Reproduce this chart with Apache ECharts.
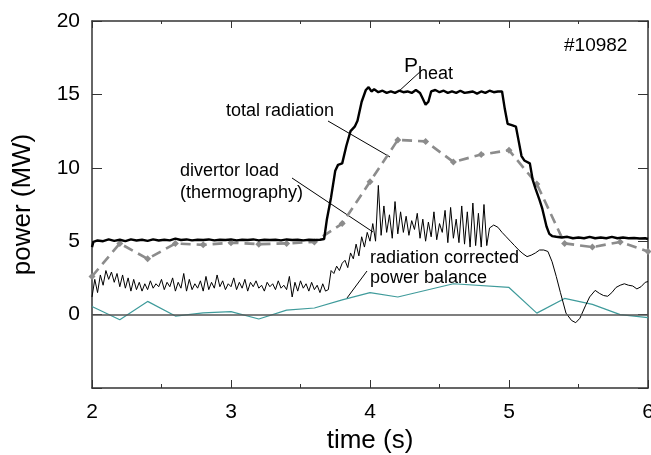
<!DOCTYPE html>
<html>
<head>
<meta charset="utf-8">
<script src="https://cdn.jsdelivr.net/npm/echarts@6/dist/echarts.min.js"></script>
<style>
  html, body { margin: 0; padding: 0; background: #fff; }
  #chart { width: 651px; height: 455px; }
</style>
</head>
<body>
<div id="chart"></div>
<script>
// heating power P_heat (MW) against time (s)
const pheatTime = [2.00, 2.01, 2.04, 2.08, 2.12, 2.16, 2.20, 2.24, 2.28, 2.32, 2.36, 2.40, 2.44, 2.48, 2.52, 2.56,
  2.60, 2.64, 2.68, 2.72, 2.76, 2.80, 2.84, 2.88, 2.92, 2.96, 3.00, 3.04, 3.08, 3.12, 3.16, 3.20, 3.24, 3.28,
  3.32, 3.36, 3.40, 3.44, 3.48, 3.52, 3.56, 3.60, 3.64, 3.67, 3.69, 3.72, 3.75, 3.77, 3.80, 3.83, 3.86, 3.89,
  3.91, 3.94, 3.97, 3.99, 4.01, 4.03, 4.06, 4.09, 4.12, 4.15, 4.18, 4.21, 4.24, 4.27, 4.30, 4.33, 4.36, 4.38,
  4.40, 4.42, 4.44, 4.47, 4.50, 4.53, 4.56, 4.59, 4.62, 4.65, 4.68, 4.71, 4.74, 4.77, 4.80, 4.83, 4.86, 4.89,
  4.92, 4.95, 4.97, 4.99, 5.02, 5.05, 5.07, 5.09, 5.11, 5.15, 5.17, 5.19, 5.22, 5.24, 5.27, 5.29, 5.31, 5.34,
  5.38, 5.42, 5.46, 5.50, 5.54, 5.58, 5.62, 5.66, 5.70, 5.74, 5.78, 5.82, 5.86, 5.90, 5.94, 5.98, 6.00];
const pheatValue = [4.6, 4.95, 5.05, 5.0, 5.12, 5.02, 5.1, 5.0, 5.12, 5.05, 5.1, 5.02, 5.12, 5.05, 5.1, 5.06,
  5.18, 5.08, 5.12, 5.06, 5.1, 5.08, 5.12, 5.06, 5.1, 5.08, 5.12, 5.06, 5.1, 5.08, 5.12, 5.06, 5.1, 5.08,
  5.1, 5.06, 5.12, 5.08, 5.1, 5.06, 5.1, 5.08, 5.1, 5.15, 6.5, 8.0, 9.8, 10.2, 10.3, 11.5, 12.5, 12.8,
  13.2, 14.5, 15.3, 15.5, 15.2, 15.35, 15.15, 15.25, 15.1, 15.2, 15.1, 15.25, 15.15, 15.2, 15.1, 15.3, 15.1, 14.7,
  14.3, 14.5, 15.2, 15.3, 15.15, 15.25, 15.1, 15.2, 15.1, 15.25, 15.1, 15.15, 15.2, 15.05, 15.2, 15.1, 15.25, 15.15,
  15.2, 15.2, 14.0, 13.0, 12.9, 12.8, 11.8, 10.8, 10.5, 10.3, 9.2, 8.6, 7.8, 7.2, 6.0, 5.5, 5.35, 5.3,
  5.25, 5.3, 5.2, 5.25, 5.2, 5.3, 5.2, 5.25, 5.2, 5.3, 5.2, 5.25, 5.2, 5.22, 5.18, 5.2, 5.15];

// total radiation, bolometer samples every 0.2 s
const radTime = [2.0, 2.2, 2.4, 2.6, 2.8, 3.0, 3.2, 3.4, 3.6, 3.8, 4.0, 4.2, 4.4, 4.6, 4.8, 5.0, 5.2, 5.4, 5.6, 5.8, 6.0];
const radValue = [2.6, 4.85, 3.8, 4.85, 4.75, 4.9, 4.8, 4.85, 4.95, 6.2, 9.05, 11.9, 11.8, 10.4, 10.9, 11.2, 8.9, 4.85, 4.6, 4.95, 4.3];

// divertor load (thermography)
const divTime = [2.00, 2.02, 2.04, 2.06, 2.08, 2.10, 2.12, 2.14, 2.16, 2.18, 2.20, 2.22, 2.24, 2.26, 2.28, 2.30,
  2.32, 2.34, 2.36, 2.38, 2.40, 2.42, 2.44, 2.46, 2.48, 2.50, 2.52, 2.54, 2.56, 2.58, 2.60, 2.62, 2.64, 2.66,
  2.68, 2.70, 2.72, 2.74, 2.76, 2.78, 2.80, 2.82, 2.84, 2.86, 2.88, 2.90, 2.92, 2.94, 2.96, 2.98, 3.00, 3.02,
  3.04, 3.06, 3.08, 3.10, 3.12, 3.14, 3.16, 3.18, 3.20, 3.22, 3.24, 3.26, 3.28, 3.30, 3.32, 3.34, 3.36, 3.38,
  3.40, 3.42, 3.44, 3.46, 3.48, 3.50, 3.52, 3.54, 3.56, 3.58, 3.60, 3.62, 3.64, 3.66, 3.68, 3.70, 3.72, 3.74,
  3.76, 3.78, 3.80, 3.82, 3.84, 3.86, 3.88, 3.90, 3.92, 3.94, 3.96, 3.98, 4.00, 4.02, 4.04, 4.06, 4.08, 4.10,
  4.12, 4.14, 4.16, 4.18, 4.20, 4.22, 4.24, 4.26, 4.28, 4.30, 4.32, 4.34, 4.36, 4.38, 4.40, 4.42, 4.44, 4.46,
  4.48, 4.50, 4.52, 4.54, 4.56, 4.58, 4.60, 4.62, 4.64, 4.66, 4.68, 4.70, 4.72, 4.74, 4.76, 4.78, 4.80, 4.82,
  4.84, 4.86, 4.89, 4.92, 4.95, 4.98, 5.01, 5.04, 5.07, 5.10, 5.13, 5.16, 5.19, 5.22, 5.25, 5.28, 5.31, 5.34,
  5.37, 5.41, 5.45, 5.48, 5.51, 5.55, 5.58, 5.62, 5.65, 5.68, 5.71, 5.74, 5.77, 5.80, 5.83, 5.86, 5.89, 5.92,
  5.95, 5.98, 6.00];
const divValue = [1.2, 2.4, 1.5, 2.7, 2.0, 3.0, 2.4, 2.9, 2.2, 2.8, 1.9, 2.7, 1.8, 2.5, 1.6, 2.4,
  1.7, 2.2, 1.6, 2.1, 1.7, 2.3, 1.8, 2.1, 1.9, 2.4, 1.7, 2.2, 1.9, 2.5, 1.6, 2.2, 1.8, 2.8,
  1.6, 2.4, 1.7, 2.1, 1.8, 2.3, 1.6, 2.6, 1.7, 2.2, 1.8, 2.7, 1.9, 2.3, 1.7, 2.1, 1.9, 2.5,
  1.7, 2.2, 1.8, 2.4, 1.6, 2.2, 1.9, 2.3, 1.8, 2.0, 1.6, 2.2, 1.9, 2.1, 1.7, 2.3, 1.8, 2.0,
  1.7, 2.6, 1.2, 2.2, 1.6, 2.3, 1.8, 2.1, 1.6, 2.2, 1.7, 2.0, 1.5, 2.1, 1.6, 1.7, 3.0, 2.8,
  3.3, 3.0, 3.5, 3.7, 3.2, 4.2, 3.8, 4.8, 4.0, 5.3, 4.6, 5.6, 5.0, 6.2, 5.0, 8.8, 5.4, 7.4,
  5.6, 6.8, 5.2, 7.7, 5.5, 7.0, 5.6, 6.7, 5.4, 6.4, 5.8, 6.9, 5.2, 6.5, 5.0, 6.3, 5.3, 7.0,
  5.1, 6.2, 5.6, 7.1, 4.9, 7.3, 5.2, 6.5, 4.9, 7.4, 4.8, 7.0, 4.6, 7.6, 4.7, 6.9, 4.6, 7.5,
  4.7, 5.9, 6.1, 5.95, 5.6, 5.3, 5.0, 4.7, 4.4, 4.15, 3.95, 4.05, 4.2, 4.4, 4.4, 4.3, 3.6, 2.6,
  1.5, 0.1, -0.4, -0.55, -0.25, 0.6, 1.2, 1.65, 1.45, 1.3, 1.25, 1.5, 1.85, 2.0, 2.1, 2.0, 1.95, 1.75,
  1.9, 2.2, 2.25];

// radiation corrected power balance
const balTime = [2.0, 2.2, 2.4, 2.6, 2.8, 3.0, 3.2, 3.4, 3.6, 3.8, 4.0, 4.2, 4.6, 5.0, 5.2, 5.4, 5.6, 5.8, 6.0];
const balValue = [0.55, -0.35, 0.9, -0.1, 0.12, 0.2, -0.3, 0.3, 0.45, 1.0, 1.5, 1.2, 2.1, 1.85, 0.1, 1.1, 0.7, 0.0, -0.2];

const xTicks = [2, 3, 4, 5, 6];
const yTicks = [0, 5, 10, 15, 20];

const font = "'Liberation Sans', Arial, sans-serif";
const pair = (ts, vs) => ts.map((t, i) => [t, vs[i]]);

let chart = echarts.init(document.getElementById("chart"));

const axisLineStyle = { color: "#333", width: 1.5 };

chart.setOption({
  animation: false,
  backgroundColor: "#fff",
  textStyle: { fontFamily: font },
  grid: { left: 92, right: 3, top: 21, bottom: 67, containLabel: false, outerBoundsMode: "none" },
  xAxis: [
    {
      type: "value",
      min: xTicks[0],
      max: xTicks[xTicks.length - 1],
      interval: 1,
      name: "time (s)",
      nameLocation: "middle",
      nameGap: 38,
      nameTextStyle: { fontSize: 26, color: "#000", fontFamily: font },
      axisLine: { show: true, onZero: false, lineStyle: axisLineStyle },
      axisTick: { show: true, inside: true, length: 8, lineStyle: { color: "#333" } },
      minorTick: { show: true, splitNumber: 2, length: 4, lineStyle: { color: "#333" } },
      axisLabel: { fontSize: 21, color: "#000", margin: 14, fontFamily: font },
      splitLine: { show: false },
    },
    {
      type: "value",
      position: "top",
      min: xTicks[0],
      max: xTicks[xTicks.length - 1],
      interval: 1,
      axisLine: { show: true, onZero: false, lineStyle: axisLineStyle },
      axisTick: { show: true, inside: true, length: 7, lineStyle: { color: "#333" } },
      minorTick: { show: true, splitNumber: 2, length: 3, lineStyle: { color: "#333" } },
      axisLabel: { show: false },
      splitLine: { show: false },
    },
  ],
  yAxis: [
    {
      type: "value",
      min: -5,
      max: 20,
      interval: 5,
      name: "power (MW)",
      nameLocation: "middle",
      nameGap: 56,
      nameTextStyle: { fontSize: 26, color: "#000", fontFamily: font },
      axisLine: { show: true, onZero: false, lineStyle: axisLineStyle },
      axisTick: { show: true, inside: true, length: 10, lineStyle: { color: "#333" } },
      axisLabel: {
        fontSize: 21,
        color: "#000",
        margin: 12,
        fontFamily: font,
        formatter: (v) => (yTicks.indexOf(v) >= 0 ? String(v) : ""),
      },
      splitLine: { show: false },
    },
    {
      type: "value",
      position: "right",
      min: -5,
      max: 20,
      interval: 5,
      axisLine: { show: true, onZero: false, lineStyle: axisLineStyle },
      axisTick: { show: true, inside: true, length: 10, lineStyle: { color: "#333" } },
      axisLabel: { show: false },
      splitLine: { show: false },
    },
  ],
  series: [
    {
      name: "power balance",
      type: "line",
      data: pair(balTime, balValue),
      showSymbol: false,
      lineStyle: { color: "#3f9b9b", width: 1.2 },
      z: 2,
      markLine: {
        silent: true,
        symbol: "none",
        label: { show: false },
        lineStyle: { color: "#555", width: 1.5, type: "solid" },
        data: [{ yAxis: 0 }],
      },
    },
    {
      name: "divertor load",
      type: "line",
      data: pair(divTime, divValue),
      showSymbol: false,
      lineStyle: { color: "#000", width: 1 },
      z: 3,
    },
    {
      name: "total radiation",
      type: "line",
      data: pair(radTime, radValue),
      symbol: "diamond",
      symbolSize: 7,
      itemStyle: { color: "#8c8c8c" },
      lineStyle: { color: "#8c8c8c", width: 2.6, type: [10, 6] },
      z: 4,
    },
    {
      name: "P_heat",
      type: "line",
      data: pair(pheatTime, pheatValue),
      showSymbol: false,
      lineStyle: { color: "#000", width: 2.4 },
      z: 5,
    },
  ],
  graphic: [
    // annotation leader lines
    { type: "line", shape: { x1: 398, y1: 92, x2: 422, y2: 70 }, style: { stroke: "#000", lineWidth: 1 } },
    { type: "line", shape: { x1: 328, y1: 121, x2: 390, y2: 157 }, style: { stroke: "#000", lineWidth: 1 } },
    { type: "line", shape: { x1: 292, y1: 178, x2: 373, y2: 232 }, style: { stroke: "#000", lineWidth: 1 } },
    { type: "line", shape: { x1: 367, y1: 271, x2: 347, y2: 298 }, style: { stroke: "#000", lineWidth: 1 } },
    {
      type: "text", left: 404, top: 56,
      style: {
        text: "{p|P}{s|heat}",
        rich: {
          p: { fontSize: 21, fontFamily: font, fill: "#000", verticalAlign: "top" },
          s: { fontSize: 18, fontFamily: font, fill: "#000", padding: [9, 0, 0, 0] },
        },
      },
    },
    { type: "text", left: 564, top: 36, style: { text: "#10982", fontSize: 19, fontFamily: font, fill: "#000" } },
    { type: "text", left: 226, top: 102, style: { text: "total radiation", fontSize: 18, fontFamily: font, fill: "#000" } },
    {
      type: "text", left: 180, top: 160,
      style: { text: "divertor load\n(thermography)", fontSize: 18, lineHeight: 22, fontFamily: font, fill: "#000" },
    },
    {
      type: "text", left: 370, top: 248,
      style: { text: "radiation corrected\npower balance", fontSize: 18, lineHeight: 20, fontFamily: font, fill: "#000" },
    },
  ],
});
</script>
</body>
</html>
